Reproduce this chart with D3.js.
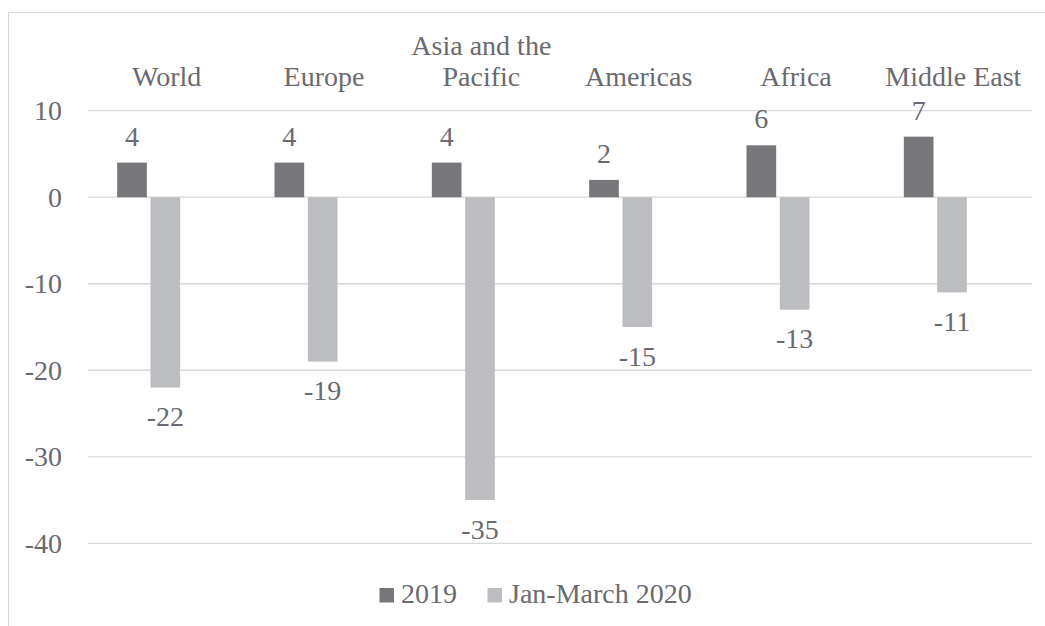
<!DOCTYPE html>
<html lang="en">
<head>
<meta charset="UTF-8">
<title>Growth by region</title>
<script src="https://d3js.org/d3.v7.min.js"></script>
<style>
    body { margin: 0; background: #fff; }
</style>
</head>
<body>
<svg id="chart" width="1045" height="626"></svg>
<script>
    const categories = ["World", "Europe", "Asia and the Pacific", "Americas", "Africa", "Middle East"];
    const series2019 = [4, 4, 4, 2, 6, 7];
    const series2020 = [-22, -19, -35, -15, -13, -11];
    const seriesNames = ["2019", "Jan-March 2020"];
    const yTicks = [10, 0, -10, -20, -30, -40];
    const colors = ["#77777b", "#bcbdc0"];
    const font = "Liberation Serif";

    const svg = d3.select("#chart");

    // outer frame
    svg.append("rect")
        .attr("x", 8.5).attr("y", 12.5)
        .attr("width", 1040).attr("height", 620)
        .attr("fill", "none")
        .attr("stroke", "#d9d9d9");

    const left = 88, right = 1032;
    const y = d3.scaleLinear().domain([-40, 10]).range([543.3, 110.7]);
    const x = d3.scaleBand().domain(categories).range([left, right]);
    const barOffset = -18; // bars sit a little left of band centre

    const inner = d3.scaleBand().domain(seriesNames).range([0, 63]).paddingInner(0.11);

    function label(sel) {
        return sel.attr("font-family", font).attr("fill", "#6a6a6f").attr("font-size", 28);
    }

    // gridlines
    svg.append("g").selectAll("line")
        .data(yTicks)
        .join("line")
        .attr("x1", left).attr("x2", right)
        .attr("y1", d => y(d)).attr("y2", d => y(d))
        .attr("stroke", "#d9d9d9")
        .attr("stroke-width", 1.3);

    // y labels
    svg.append("g").selectAll("text")
        .data(yTicks)
        .join("text")
        .call(label)
        .attr("x", 62)
        .attr("y", d => y(d) + 9.5)
        .attr("text-anchor", "end")
        .text(d => d);

    // category labels
    const catG = svg.append("g");
    categories.forEach(c => {
        const cx = x(c) + x.bandwidth() / 2;
        const lines = c === "Asia and the Pacific" ? ["Asia and the", "Pacific"] : [c];
        lines.forEach((ln, i) => {
            catG.append("text")
                .call(label)
                .attr("x", cx)
                .attr("y", 86 - (lines.length - 1 - i) * 31)
                .attr("text-anchor", "middle")
                .text(ln);
        });
    });

    const rows = categories.map((c, i) => ({ c, vals: [series2019[i], series2020[i]] }));

    const groups = svg.append("g").selectAll("g")
        .data(rows)
        .join("g")
        .attr("transform", d => `translate(${x(d.c) + x.bandwidth() / 2 - 31.5 + barOffset},0)`);

    groups.selectAll("rect")
        .data(d => d.vals.map((v, k) => ({ v, k })))
        .join("rect")
        .attr("x", d => inner(seriesNames[d.k]))
        .attr("width", inner.bandwidth())
        .attr("y", d => y(Math.max(0, d.v)))
        .attr("height", d => Math.abs(y(d.v) - y(0)))
        .attr("fill", d => colors[d.k]);

    groups.selectAll("text")
        .data(d => d.vals.map((v, k) => ({ v, k })))
        .join("text")
        .call(label)
        .attr("x", d => inner(seriesNames[d.k]) + inner.bandwidth() / 2)
        .attr("y", d => d.v >= 0 ? y(d.v) - 17 : y(d.v) + 38.5)
        .attr("text-anchor", "middle")
        .text(d => d.v);

    // legend
    const legend = svg.append("g");
    const legX = [379.5, 487.5];
    seriesNames.forEach((s, k) => {
        legend.append("rect")
            .attr("x", legX[k]).attr("y", 588)
            .attr("width", 14.5).attr("height", 14.5)
            .attr("fill", colors[k]);
        legend.append("text")
            .call(label)
            .attr("x", legX[k] + 21.5)
            .attr("y", 603)
            .text(s);
    });
</script>
</body>
</html>
